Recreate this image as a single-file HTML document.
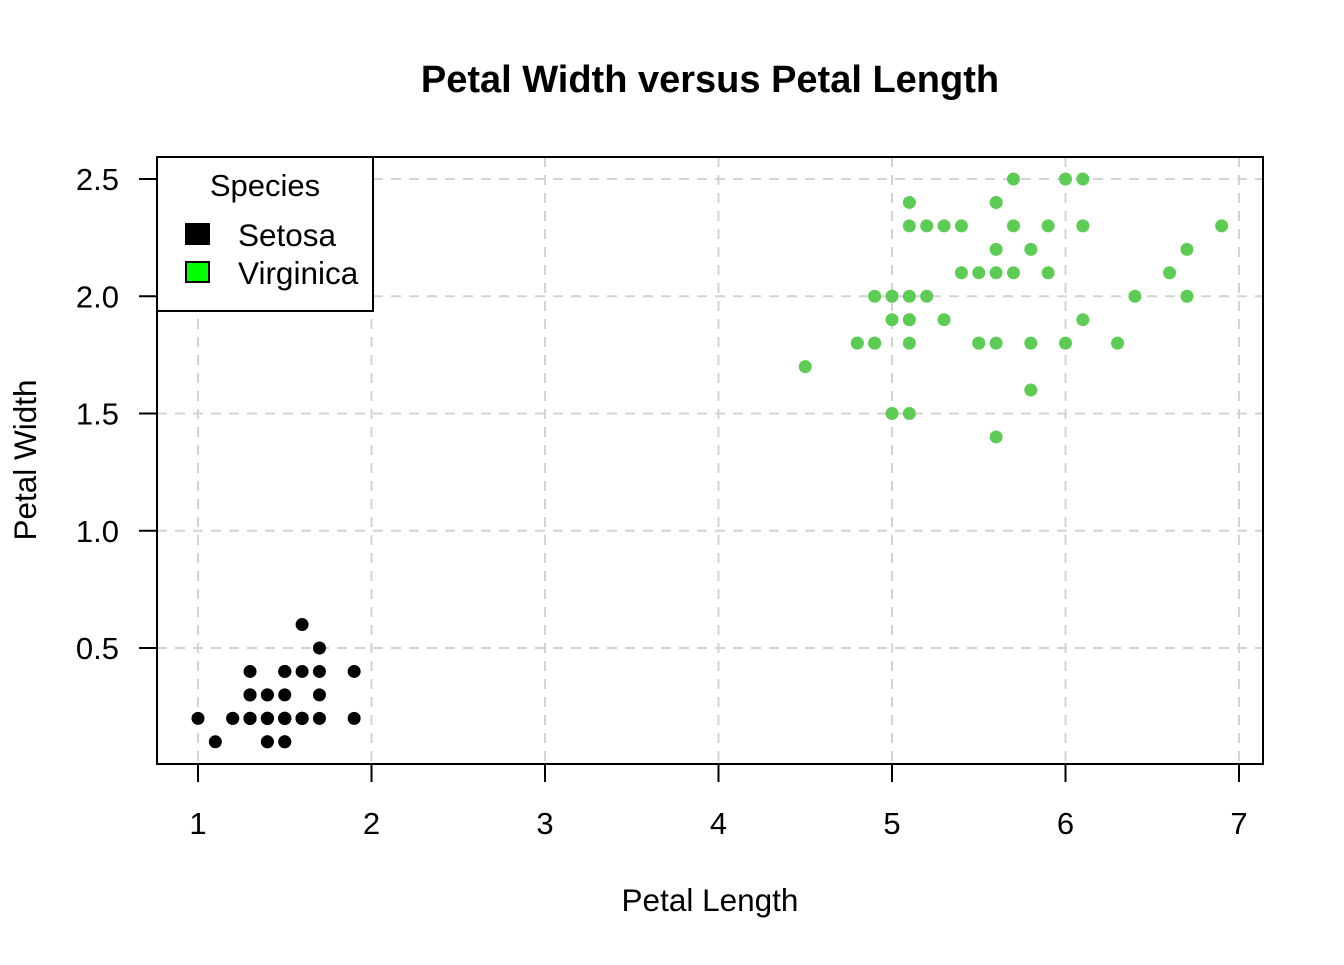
<!DOCTYPE html>
<html><head><meta charset="utf-8"><style>
html,body{margin:0;padding:0;background:#fff;}
svg text{font-family:"Liberation Sans",Arial,sans-serif;}
</style></head><body>
<svg id="chart" width="1344" height="960" viewBox="0 0 1344 960">
<rect width="1344" height="960" fill="#fff"/>
<text x="710" y="92" text-anchor="middle" font-size="38" font-weight="bold">Petal Width versus Petal Length</text>
<text x="710" y="911" text-anchor="middle" font-size="31.5">Petal Length</text>
<text transform="translate(36,460) rotate(-90)" text-anchor="middle" font-size="31.5">Petal Width</text>
<g id="grid"></g><g id="axes"></g><g id="points"></g>
<g>
<rect x="157" y="157" width="216" height="154" fill="#fff" stroke="#000" stroke-width="2"/>
<text x="265" y="196" text-anchor="middle" font-size="31">Species</text>
<rect x="186" y="224" width="23" height="20" fill="#000" stroke="#000" stroke-width="2"/>
<text x="238" y="246" font-size="31.5">Setosa</text>
<rect x="186" y="262" width="23" height="20" fill="#00ff00" stroke="#000" stroke-width="2"/>
<text x="238" y="284" font-size="31.5">Virginica</text>
</g>
<rect x="157" y="157" width="1106" height="607" fill="none" stroke="#000" stroke-width="2"/>
</svg>
<script>
const xTicks=[1,2,3,4,5,6,7];
const yTicks=[0.5,1.0,1.5,2.0,2.5];
const yTickLabels=["0.5","1.0","1.5","2.0","2.5"];
const setosaLength=[1.4,1.4,1.3,1.5,1.4,1.7,1.4,1.5,1.4,1.5,1.5,1.6,1.4,1.1,1.2,1.5,1.3,1.4,1.7,1.5,1.7,1.5,1.0,1.7,1.9,1.6,1.6,1.5,1.4,1.6,1.6,1.5,1.5,1.4,1.5,1.2,1.3,1.4,1.3,1.5,1.3,1.3,1.3,1.6,1.9,1.6,1.4,1.5,1.4,1.6];
const setosaWidth=[0.2,0.2,0.2,0.2,0.2,0.4,0.3,0.2,0.2,0.1,0.2,0.2,0.1,0.1,0.2,0.4,0.4,0.3,0.3,0.3,0.2,0.4,0.2,0.5,0.2,0.2,0.4,0.2,0.2,0.2,0.2,0.4,0.1,0.2,0.2,0.2,0.2,0.1,0.2,0.2,0.3,0.3,0.2,0.6,0.4,0.2,0.2,0.2,0.2,0.2];
const virginicaLength=[6.0,5.1,5.9,5.6,5.8,6.6,4.5,6.3,5.8,6.1,5.1,5.3,5.5,5.0,5.1,5.3,5.5,6.7,6.9,5.0,5.7,4.9,6.7,4.9,5.7,6.0,4.8,4.9,5.6,5.8,6.1,6.4,5.6,5.1,5.6,6.1,5.6,5.5,4.8,5.4,5.6,5.1,5.1,5.9,5.7,5.2,5.0,5.2,5.4,5.1];
const virginicaWidth=[2.5,1.9,2.1,1.8,2.2,2.1,1.7,1.8,1.8,2.5,2.0,1.9,2.1,2.0,2.4,2.3,1.8,2.2,2.3,1.5,2.3,2.0,2.0,1.8,2.1,1.8,1.8,1.8,2.1,1.6,1.9,2.0,2.2,1.5,1.4,2.3,2.4,1.8,1.8,2.1,2.4,2.3,1.9,2.3,2.5,2.3,1.9,2.0,2.3,1.8];
const NS="http://www.w3.org/2000/svg";
const xs=v=>198+(v-1)*173.5;
const ys=v=>179+(2.5-v)*234.5;
function mk(tag,attrs,parent){const e=document.createElementNS(NS,tag);for(const k in attrs)e.setAttribute(k,attrs[k]);parent.appendChild(e);return e;}
const grid=document.getElementById('grid'),axes=document.getElementById('axes'),pts=document.getElementById('points');
xTicks.forEach(t=>{
 const g=mk('line',{x1:xs(t),x2:xs(t),y1:157,y2:764,stroke:'#d3d3d3','stroke-width':2,'stroke-dasharray':'10,8'},grid);
 
 
 const tk=mk('line',{x1:xs(t),x2:xs(t),y1:764,y2:782,stroke:'#000','stroke-width':2},axes);
 
 
 const tx=mk('text',{x:xs(t),y:834,'text-anchor':'middle','font-size':31},axes);
 tx.textContent=t;
 
 
});
yTicks.forEach((t,i)=>{
 const g=mk('line',{x1:157,x2:1263,y1:ys(t),y2:ys(t),stroke:'#d3d3d3','stroke-width':2,'stroke-dasharray':'10,8'},grid);
 
 
 const tk=mk('line',{x1:139,x2:157,y1:ys(t),y2:ys(t),stroke:'#000','stroke-width':2},axes);
 
 
 const tx=mk('text',{x:119,y:ys(t)+11,'text-anchor':'end','font-size':31},axes);
 tx.textContent=yTickLabels[i];
 
 
});
setosaLength.forEach((v,i)=>{
 const c=mk('circle',{cx:xs(v),cy:ys(setosaWidth[i]),r:6.5,fill:'#000'},pts);
 
 
});
virginicaLength.forEach((v,i)=>{
 const c=mk('circle',{cx:xs(v),cy:ys(virginicaWidth[i]),r:6.5,fill:'#5ccc55'},pts);
 
 
});
</script>
</body></html>
